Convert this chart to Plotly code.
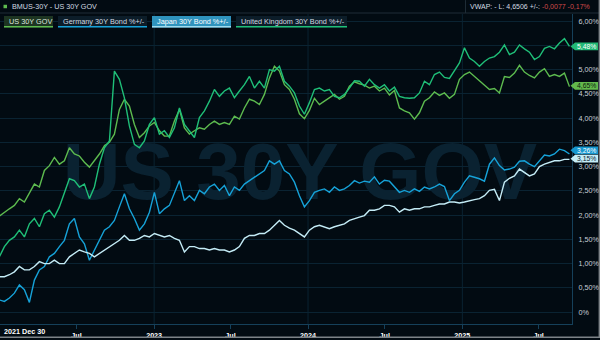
import pandas as pd
import plotly.graph_objects as go

# ---- data: 30-year government bond yields, % ----
dates = pd.date_range("2021-12-30", "2025-09-12", periods=115)

us_30y = [
    1.98, 2.06, 2.13, 2.20, 2.34, 2.27, 2.44, 2.64, 2.58, 2.92, 3.02, 3.19, 3.05, 3.12, 3.39,
    3.26, 3.22, 3.09, 2.99, 3.12, 3.26, 3.43, 3.50, 3.67, 4.18, 4.39, 4.25, 3.87, 3.60,
    3.70, 3.84, 3.91, 3.74, 3.63, 3.63, 3.94, 4.18, 3.80, 3.67, 3.74, 3.80, 3.77, 3.87, 3.94,
    3.87, 3.91, 3.87, 4.04, 3.98, 4.21, 4.39, 4.35, 4.28, 4.49, 4.83, 5.07, 4.97, 4.69,
    4.59, 4.39, 4.09, 3.99, 4.16, 4.41, 4.28, 4.35, 4.42, 4.49, 4.39, 4.45, 4.66, 4.75, 4.71,
    4.68, 4.62, 4.66, 4.56, 4.62, 4.48, 4.57, 4.21, 4.15, 4.11, 3.98, 4.11, 4.35, 4.42,
    4.54, 4.47, 4.52, 4.41, 4.49, 4.80, 4.90, 4.95, 4.86, 4.75, 4.68, 4.59, 4.61, 4.52,
    4.86, 4.84, 4.93, 5.09, 4.95, 4.88, 4.83, 4.95, 5.02, 4.86, 4.90, 4.86, 4.93, 4.65,
]
germany_30y = [
    0.25, 0.22, 0.29, 0.39, 0.56, 0.46, 0.20, 0.66, 0.87, 0.94, 1.14, 1.21, 1.35, 1.48, 1.82,
    1.93, 1.55, 1.41, 1.07, 1.28, 1.48, 1.69, 1.76, 1.89, 2.17, 2.44, 2.13, 1.93, 1.69,
    1.82, 2.06, 2.47, 2.03, 2.13, 2.20, 2.44, 2.71, 2.30, 2.40, 2.30, 2.51, 2.44, 2.58, 2.64,
    2.51, 2.61, 2.40, 2.58, 2.51, 2.64, 2.71, 2.78, 2.85, 2.92, 3.12, 3.05, 3.12, 2.92,
    2.85, 2.68, 2.40, 2.17, 2.30, 2.47, 2.51, 2.54, 2.47, 2.58, 2.51, 2.54, 2.61, 2.71, 2.66,
    2.70, 2.68, 2.79, 2.64, 2.72, 2.70, 2.59, 2.47, 2.51, 2.47, 2.54, 2.49, 2.58, 2.54,
    2.58, 2.64, 2.59, 2.30, 2.44, 2.51, 2.68, 2.81, 2.78, 2.75, 2.70, 3.05, 3.18, 3.02,
    2.93, 2.95, 2.99, 3.11, 3.12, 3.05, 3.00, 3.12, 3.24, 3.22, 3.26, 3.36, 3.33, 3.26,
]
japan_30y = [
    0.73, 0.73, 0.77, 0.83, 0.94, 0.87, 0.87, 0.94, 1.04, 1.00, 1.00, 1.07, 1.00, 1.00, 1.14,
    1.21, 1.28, 1.24, 1.21, 1.14, 1.21, 1.28, 1.35, 1.41, 1.48, 1.58, 1.48, 1.48, 1.52,
    1.58, 1.55, 1.62, 1.58, 1.55, 1.58, 1.52, 1.48, 1.24, 1.35, 1.35, 1.31, 1.31, 1.28, 1.31,
    1.28, 1.28, 1.24, 1.28, 1.35, 1.52, 1.58, 1.58, 1.62, 1.62, 1.69, 1.79, 1.89, 1.79,
    1.73, 1.69, 1.62, 1.55, 1.69, 1.76, 1.79, 1.76, 1.72, 1.76, 1.79, 1.82, 1.89, 1.93, 1.96,
    1.99, 2.10, 2.10, 2.13, 2.20, 2.20, 2.17, 2.06, 2.13, 2.10, 2.13, 2.13, 2.17, 2.17,
    2.20, 2.23, 2.23, 2.27, 2.27, 2.25, 2.27, 2.30, 2.32, 2.34, 2.40, 2.51, 2.53, 2.30,
    2.68, 2.76, 2.81, 2.95, 2.88, 2.81, 2.85, 3.00, 3.05, 3.09, 3.12, 3.12, 3.15, 3.15,
]
uk_30y = [
    1.14, 1.35, 1.48, 1.55, 1.69, 1.55, 1.82, 1.93, 1.76, 2.03, 2.10, 1.96, 2.17, 2.44, 2.75,
    2.71, 2.58, 2.64, 2.34, 2.58, 3.05, 3.39, 3.53, 4.97, 4.80, 4.42, 3.84, 3.46, 3.39,
    3.53, 3.87, 4.01, 3.67, 3.74, 3.60, 3.80, 4.21, 3.87, 3.74, 3.60, 4.01, 4.15, 4.35, 4.59,
    4.45, 4.56, 4.62, 4.42, 4.56, 4.69, 4.86, 4.62, 4.76, 4.62, 5.00, 4.97, 5.07, 4.76,
    4.66, 4.52, 4.25, 4.08, 4.32, 4.59, 4.62, 4.56, 4.59, 4.45, 4.42, 4.49, 4.62, 4.77, 4.76,
    4.66, 4.80, 4.69, 4.62, 4.69, 4.56, 4.64, 4.45, 4.42, 4.41, 4.42, 4.52, 4.76, 4.69,
    4.90, 4.95, 4.84, 4.82, 4.98, 5.14, 5.45, 5.24, 5.17, 5.07, 5.17, 5.24, 5.27, 5.36,
    5.51, 5.31, 5.36, 5.51, 5.43, 5.36, 5.21, 5.27, 5.44, 5.48, 5.43, 5.55, 5.64, 5.48,
]

series_names = ["US 30Y GOV", "Germany 30Y Bond %+/-", "Japan 30Y Bond %+/-",
                "United Kingdom 30Y Bond %+/-"]
series_values = [us_30y, germany_30y, japan_30y, uk_30y]
series_colors = ["#5dbb4f", "#16a2d8", "#c4ecf6", "#1fbf78"]

y_tick_vals = [i * 0.5 for i in range(13)]
# the 5,50% level sits under the UK last-value tag, so its label is left blank
y_tick_text = ["0%"] + [("" if v == 5.5 else f"{v:.2f}".replace(".", ",") + "%")
                        for v in y_tick_vals[1:]]
x_tick_vals = ["2022-07-01", "2023-01-01", "2023-07-01", "2024-01-01",
               "2024-07-01", "2025-01-01", "2025-07-01"]
x_tick_text = ["Jul", "2023", "Jul", "2024", "Jul", "2025", "Jul"]
first_label = "2021 Dec 30"
year_starts = ["2023-01-01", "2024-01-01", "2025-01-01"]

# ---- geometry helpers ----
W, H = 600, 340
ML, MR, MT, MB = 0, 28, 14, 14
PW, PH = W - ML - MR, H - MT - MB
X_RANGE = [pd.Timestamp("2021-12-31 11:00"), pd.Timestamp("2025-09-18 01:00")]
Y_RANGE = [-0.246, 6.148]
PX_PER_PCT = PH / (Y_RANGE[1] - Y_RANGE[0])

FONT = "Liberation Sans, Arial, sans-serif"
BG = "#020b12"
GRID = "#0a2332"
AXIS = "#15405a"


def fx(p):
    return (p - ML) / PW


def fy(p):
    return (H - MB - p) / PH


fig = go.Figure()

# watermark, drawn first so the series sit on top of it
wm_x = X_RANGE[0] + (X_RANGE[1] - X_RANGE[0]) * fx(300)
wm_y = Y_RANGE[0] + (Y_RANGE[1] - Y_RANGE[0]) * fy(180)
fig.add_trace(go.Scatter(
    x=[wm_x], y=[wm_y], mode="text", text=["US 30Y GOV"],
    textposition="middle center",
    textfont=dict(family=FONT, size=80, color="#0a2231", weight="bold"),
    hoverinfo="skip", showlegend=False,
))

for name, vals, col in zip(series_names, series_values, series_colors):
    fig.add_trace(go.Scatter(
        x=dates, y=vals, mode="lines", name=name,
        line=dict(color=col, width=1.4), showlegend=False,
    ))

shapes = []
annotations = []

# yearly vertical grid lines
for d in year_starts:
    shapes.append(dict(type="line", xref="x", yref="paper", x0=d, x1=d, y0=0, y1=1,
                       line=dict(color=GRID, width=1), layer="below"))

# header row
shapes.append(dict(type="rect", xref="paper", yref="paper", x0=fx(0), x1=fx(600),
                   y0=fy(13), y1=fy(0), fillcolor=BG, line=dict(width=0)))
shapes.append(dict(type="line", xref="paper", yref="paper", x0=fx(0), x1=fx(600),
                   y0=fy(13), y1=fy(13), line=dict(color="#1e2c36", width=1)))
shapes.append(dict(type="line", xref="paper", yref="paper", x0=fx(465.5), x1=fx(465.5),
                   y0=fy(0), y1=fy(13), line=dict(color="#1e2c36", width=1)))
shapes.append(dict(type="rect", xref="paper", yref="paper", x0=fx(3.5), x1=fx(7),
                   y0=fy(8.2), y1=fy(4.7), fillcolor="#5dbb4f", line=dict(width=0)))
annotations.append(dict(text="BMUS-30Y - US 30Y GOV", xref="paper", yref="paper",
                        x=fx(10), y=fy(6.7), xanchor="left", yanchor="middle",
                        showarrow=False, font=dict(family=FONT, size=7.2, color="#d3dbe2")))
annotations.append(dict(
    text="VWAP: - L: 4,6506 +/-: <span style='color:#d24a4a'>-0,0077 -0,17%</span>",
    xref="paper", yref="paper", x=fx(468), y=fy(6.7), xanchor="left", yanchor="middle",
    showarrow=False, font=dict(family=FONT, size=7.0, color="#d3dbe2")))

# series tabs
tabs = [(4, 53, "#1d3522", "#5dbb4f", "#dfe8df"),
        (58, 147, "#0c1d29", "#16a2d8", "#d3dbe2"),
        (152, 231, "#2f93bd", "#9fdcef", "#ffffff"),
        (236, 347, "#0c1d29", "#1fbf78", "#d3dbe2")]
for name, (x0, x1, bg, ul, fg) in zip(series_names, tabs):
    shapes.append(dict(type="rect", xref="paper", yref="paper", x0=fx(x0), x1=fx(x1),
                       y0=fy(27.5), y1=fy(16), fillcolor=bg, line=dict(width=0)))
    shapes.append(dict(type="rect", xref="paper", yref="paper", x0=fx(x0), x1=fx(x1),
                       y0=fy(27.5), y1=fy(26), fillcolor=ul, line=dict(width=0)))
    annotations.append(dict(text=name, xref="paper", yref="paper", x=fx(x0 + 2.7),
                            y=fy(21.5), xanchor="left", yanchor="middle", showarrow=False,
                            font=dict(family=FONT, size=7.3, color=fg)))

# last-value tags on the price scale (shift in px, + moves the tag up)
tag_style = [(0, 0.8, "#63b94c", "#0b1c0c"),
             (1, 3.7, "#1697cf", "#ffffff"),
             (2, 0.7, "#c4ecf6", "#0b2230"),
             (3, 0.0, "#22b875", "#ffffff")]
for idx, shift_px, bg, fg in tag_style:
    v = series_values[idx][-1]
    yc = v + shift_px / PX_PER_PCT
    h = 3.9 / PX_PER_PCT
    path = (f"M {fx(570.5)},{yc} L {fx(575)},{yc + h} L {fx(598)},{yc + h} "
            f"L {fx(598)},{yc - h} L {fx(575)},{yc - h} Z")
    shapes.append(dict(type="path", xref="paper", yref="y", path=path,
                       fillcolor=bg, line=dict(width=0)))
    annotations.append(dict(text=f"{v:.2f}".replace(".", ",") + "%", xref="paper", yref="y",
                            x=fx(586.5), y=yc, xanchor="center", yanchor="middle",
                            showarrow=False, font=dict(family=FONT, size=6.8, color=fg)))

# first date label on the time axis
annotations.append(dict(text=f"<b>{first_label}</b>", xref="paper", yref="paper",
                        x=fx(2), y=fy(334), xanchor="left", yanchor="middle",
                        showarrow=False, font=dict(family=FONT, size=7.2, color="#ffffff")))

# window frame edges
shapes.append(dict(type="rect", xref="paper", yref="paper", x0=fx(0), x1=fx(600),
                   y0=fy(340), y1=fy(338.6), fillcolor="#7d8388", line=dict(width=0)))
shapes.append(dict(type="rect", xref="paper", yref="paper", x0=fx(598.6), x1=fx(600),
                   y0=fy(340), y1=fy(0), fillcolor="#7d8388", line=dict(width=0)))

fig.update_layout(
    width=W, height=H,
    margin=dict(l=ML, r=MR, t=MT, b=MB, pad=0),
    paper_bgcolor=BG, plot_bgcolor=BG,
    showlegend=False,
    shapes=shapes, annotations=annotations,
    xaxis=dict(
        range=X_RANGE, type="date",
        tickvals=x_tick_vals, ticktext=[f"<b>{t}</b>" for t in x_tick_text],
        tickfont=dict(family=FONT, size=7.2, color="#ffffff"),
        ticks="outside", ticklen=4, tickcolor=AXIS, tickwidth=1,
        showgrid=False, zeroline=False,
        showline=True, linecolor=AXIS, linewidth=1,
    ),
    yaxis=dict(
        range=Y_RANGE, side="right",
        tickvals=y_tick_vals, ticktext=y_tick_text,
        tickfont=dict(family=FONT, size=7.2, color="#c9d1d8"),
        ticks="", ticklabelstandoff=4,
        showgrid=True, gridcolor=GRID, gridwidth=1, zeroline=False,
        showline=True, linecolor=AXIS, linewidth=1,
    ),
)

fig.write_html("out.html", config={"displayModeBar": False})
